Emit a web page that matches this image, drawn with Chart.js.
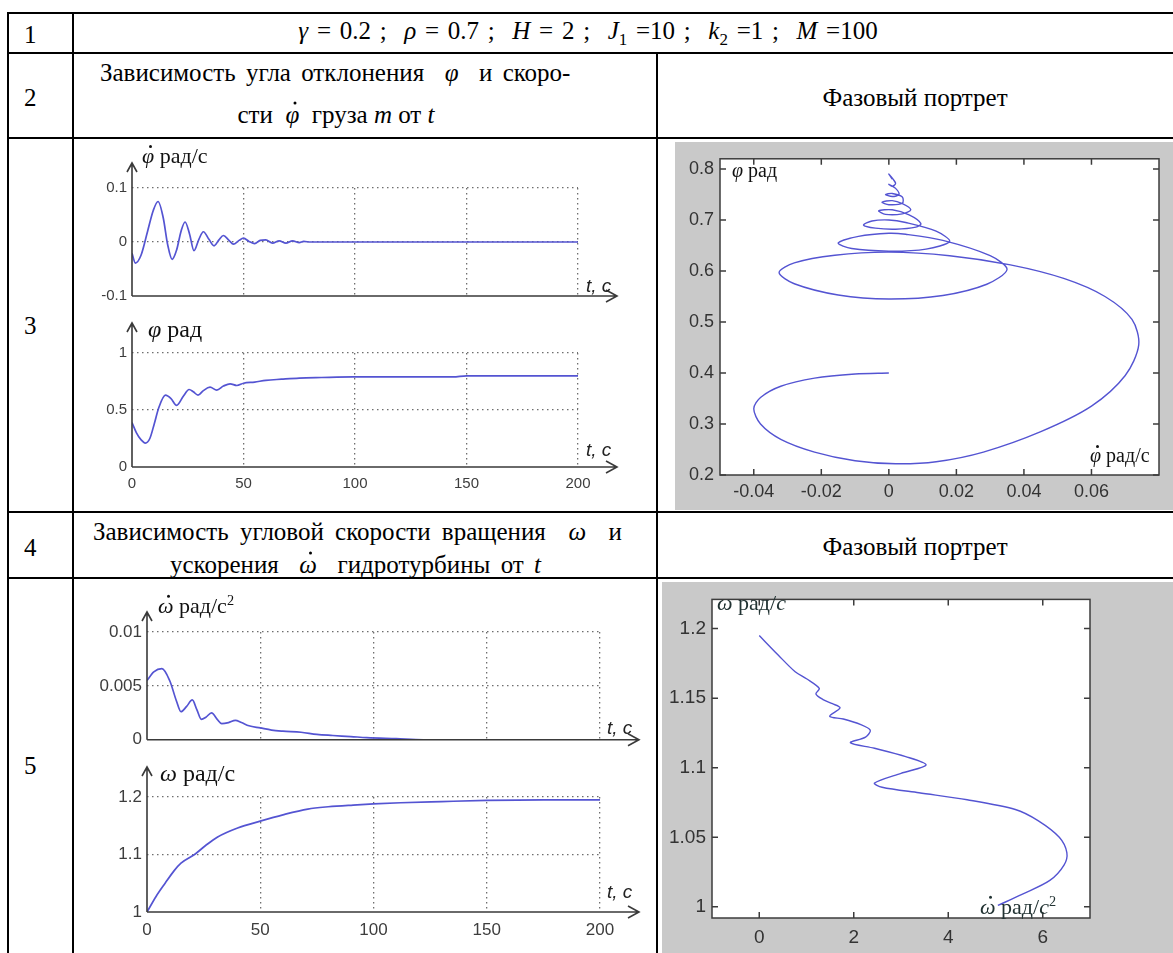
<!DOCTYPE html>
<html>
<head>
<meta charset="utf-8">
<script src="https://cdn.jsdelivr.net/npm/chart.js@4/dist/chart.umd.min.js"></script>
<style>
  body { margin: 0; width: 1173px; height: 953px; overflow: hidden; position: relative; background: #fff; color: #000;
         font-family: 'Liberation Serif', 'Times New Roman', serif; }
  .ln { position: absolute; background: #000; }
  .tx { position: absolute; white-space: nowrap; line-height: 1; font-size: 25px; transform: translateY(-50%); z-index: 3; }
  .c { transform: translate(-50%, -50%); }
  .lbl { font-size: 22px; color: #111; }
  .tc { font-family: 'Liberation Sans', Arial, sans-serif; font-style: italic; font-size: 19px; color: #222; }
  .dt { position: relative; display: inline-block; }
  .dt::after { content: ""; position: absolute; width: 3px; height: 3px; border-radius: 50%; background: currentColor;
               left: 55%; top: -0.02em; }
  sub { font-size: 0.68em; vertical-align: -0.3em; }
  canvas { position: absolute; }
  .gray { background: #c9c9c9; }
</style>
</head>
<body>

<!-- table lines -->
<div class="ln" style="left:7px;top:12px;width:1166px;height:2px"></div>
<div class="ln" style="left:7px;top:52px;width:1166px;height:2px"></div>
<div class="ln" style="left:7px;top:137px;width:1166px;height:2px"></div>
<div class="ln" style="left:7px;top:511px;width:1166px;height:2px"></div>
<div class="ln" style="left:7px;top:577px;width:1166px;height:2px"></div>
<div class="ln" style="left:7px;top:12px;width:2px;height:941px"></div>
<div class="ln" style="left:72px;top:12px;width:2px;height:941px"></div>
<div class="ln" style="left:656px;top:52px;width:2px;height:901px"></div>

<!-- table text -->
<div class="tx" style="left:24px;top:34px">1</div>
<div class="tx c" style="left:588px;top:33px;word-spacing:2.5px"><i>γ</i> = 0.2 ;&nbsp; <i>ρ</i> = 0.7 ;&nbsp; <i>H</i> = 2 ;&nbsp; <i>J</i><sub>1</sub> =10 ;&nbsp; <i>k</i><sub>2</sub> =1 ;&nbsp; <i>M</i> =100</div>
<div class="tx" style="left:24px;top:97px">2</div>
<div class="tx" style="left:100px;top:72px;word-spacing:4px">Зависимость угла отклонения&nbsp; <i>φ</i>&nbsp; и скоро-</div>
<div class="tx c" style="left:336px;top:114px">сти&nbsp; <i class="dt">φ</i>&nbsp; груза <i>m</i> от <i>t</i></div>
<div class="tx c" style="left:915px;top:97px">Фазовый портрет</div>
<div class="tx" style="left:24px;top:325px">3</div>
<div class="tx" style="left:24px;top:547px">4</div>
<div class="tx" style="left:93px;top:531px;word-spacing:5px">Зависимость угловой скорости вращения&nbsp; <i>ω</i>&nbsp; и</div>
<div class="tx" style="left:170px;top:564px;word-spacing:4px">ускорения&nbsp; <i class="dt">ω</i>&nbsp; гидротурбины от <i>t</i></div>
<div class="tx c" style="left:915px;top:546px">Фазовый портрет</div>
<div class="tx" style="left:24px;top:765px">5</div>

<!-- charts -->
<canvas id="cPhiDot" width="545" height="160" style="left:92px;top:150px"></canvas>
<canvas id="cPhi" width="545" height="185" style="left:92px;top:315px"></canvas>
<canvas id="cOmDot" width="560" height="160" style="left:92px;top:595px"></canvas>
<canvas id="cOm" width="560" height="190" style="left:92px;top:760px"></canvas>
<canvas id="pPhi" class="gray" width="498" height="368" style="left:675px;top:142px"></canvas>
<canvas id="pOm" class="gray" width="511" height="371" style="left:662px;top:582px"></canvas>

<!-- axis captions -->
<div class="tx lbl" style="left:142px;top:156px"><i class="dt">φ</i> рад/с</div>
<div class="tx tc" style="left:586px;top:285px">t, c</div>
<div class="tx lbl" style="left:148px;top:329px;font-size:24px"><i>φ</i> рад</div>
<div class="tx tc" style="left:586px;top:449px">t, c</div>
<div class="tx lbl" style="left:158px;top:605px"><i class="dt">ω</i> рад/с<sup style="font-size:0.65em">2</sup></div>
<div class="tx tc" style="left:607px;top:727px">t, c</div>
<div class="tx lbl" style="left:160px;top:773px;font-size:24px"><i>ω</i> рад/с</div>
<div class="tx tc" style="left:607px;top:891px">t, c</div>
<div class="tx lbl" style="left:732px;top:170px;font-size:20px"><i>φ</i> рад</div>
<div class="tx lbl" style="left:1090px;top:455px;font-size:20px"><i class="dt">φ</i> рад/с</div>
<div class="tx lbl" style="left:717px;top:603px;font-size:22px;color:#233"><i>ω</i> рад/<i>с</i></div>
<div class="tx lbl" style="left:980px;top:906px;font-size:22px;color:#233"><i class="dt">ω</i> рад/<i>с</i><sup style="font-size:0.65em">2</sup></div>

<script>
// phi dot (rad/s) vs t
const tPhiDot = [0, 1.5, 4, 7, 9.5, 11.7, 14, 16, 18, 20, 22, 23.8, 25.8, 27.8, 30, 32, 34.5, 36.8, 39, 41, 43.5, 45.5, 48, 50, 52.5, 55, 57.5, 60, 63, 66, 69, 72, 75, 77, 80, 100, 150, 200];
const phiDot = [-0.021, -0.039, -0.025, 0.02, 0.058, 0.075, 0.045, -0.005, -0.032, -0.015, 0.02, 0.037, 0.015, -0.016, 0.005, 0.019, 0.005, -0.007, 0.004, 0.012, 0.003, -0.004, 0.003, 0.007, 0.001, -0.003, 0.003, 0.004, -0.002, 0.002, -0.002, 0.002, -0.001, 0.001, 0, 0, 0, 0];

// phi (rad) vs t
const tPhi = [0, 2, 4, 6, 8, 10, 12, 15, 17.5, 20, 23, 25.6, 27.5, 29.6, 32, 35, 38, 41, 44, 47, 50, 55, 60, 67, 75, 85, 99, 120, 144, 150, 175, 200];
const phi = [0.39, 0.30, 0.24, 0.21, 0.25, 0.38, 0.52, 0.63, 0.60, 0.54, 0.62, 0.68, 0.66, 0.63, 0.67, 0.70, 0.675, 0.71, 0.73, 0.715, 0.735, 0.745, 0.76, 0.77, 0.78, 0.785, 0.79, 0.79, 0.79, 0.80, 0.80, 0.80];

// omega dot (rad/s^2) vs t
const tOmDot = [0, 3, 6.6, 10, 13, 15, 17.5, 20, 22, 24, 26, 28.5, 31, 33, 36, 39, 41.7, 45, 50, 55, 60, 68, 75, 82, 90, 97, 110, 122, 150, 200];
const omDot = [0.0055, 0.0063, 0.0066, 0.0055, 0.0036, 0.0026, 0.0031, 0.0037, 0.0028, 0.0019, 0.0021, 0.0025, 0.0019, 0.0015, 0.0016, 0.0018, 0.0016, 0.0013, 0.0011, 0.0009, 0.0008, 0.0007, 0.0005, 0.0004, 0.0003, 0.0002, 0.0001, 0, 0, 0];

// omega (rad/s) vs t
const tOm = [0, 4, 8, 12, 15, 21, 26, 31, 40, 50, 60, 71, 80, 91, 100, 112, 130, 150, 175, 200];
const om = [1.0, 1.027, 1.05, 1.072, 1.085, 1.10, 1.116, 1.13, 1.146, 1.158, 1.169, 1.179, 1.183, 1.186, 1.188, 1.19, 1.192, 1.194, 1.195, 1.195];

// phase portrait 1: x = phi dot, y = phi
const ppPhiDot = [0, -0.010, -0.022, -0.032, -0.038, -0.040, -0.038, -0.032, -0.022, -0.010, 0.002, 0.014, 0.028, 0.045, 0.060, 0.070, 0.074, 0.072, 0.064, 0.052, 0.036, 0.018, 0,
  -0.016, -0.028, -0.0325, -0.028, -0.015, 0, 0.016, 0.029, 0.035, 0.030, 0.016, 0.005, 0,
  -0.009, -0.015, -0.011, 0, 0.011, 0.018, 0.014, 0.005, 0,
  -0.005, -0.0075, -0.004, 0.002, 0.008, 0.0095, 0.006, 0.001,
  -0.003, -0.001, 0.004, 0.0065, 0.004, 0.001,
  -0.002, 0, 0.004, 0.004, 0.001,
  -0.001, 0.001, 0.003, 0.002, 0, 0.001, 0.002, 0, 0.001];
const ppPhi = [0.400, 0.398, 0.390, 0.374, 0.352, 0.330, 0.300, 0.270, 0.245, 0.228, 0.222, 0.226, 0.245, 0.285, 0.335, 0.395, 0.455, 0.505, 0.550, 0.585, 0.612, 0.630, 0.637,
  0.631, 0.616, 0.597, 0.575, 0.553, 0.545, 0.552, 0.574, 0.603, 0.630, 0.660, 0.672, 0.674,
  0.668, 0.655, 0.644, 0.639, 0.643, 0.658, 0.678, 0.695, 0.700,
  0.698, 0.690, 0.684, 0.682, 0.686, 0.693, 0.710, 0.720,
  0.718, 0.711, 0.712, 0.720, 0.732, 0.738,
  0.735, 0.730, 0.733, 0.745, 0.752,
  0.750, 0.746, 0.750, 0.762, 0.770, 0.766, 0.772, 0.790, 0.780];

// phase portrait 2: x = omega dot (x1e-3), y = omega
const ppOmDot = [5.05, 5.56, 6.15, 6.45, 6.51, 6.35, 5.9, 5.42, 4.4, 3.38, 2.6, 2.44, 3.0, 3.53, 3.1, 2.44, 1.93, 2.25, 2.35, 2.15, 1.78, 1.49, 1.71, 1.55, 1.35, 1.2, 1.27, 1.0, 0.76, 0.4, 0];
const ppOm = [1.001, 1.009, 1.019, 1.03, 1.039, 1.05, 1.062, 1.07, 1.077, 1.082, 1.086, 1.089, 1.096, 1.102, 1.108, 1.114, 1.118, 1.122, 1.127, 1.131, 1.135, 1.137, 1.143, 1.146, 1.149, 1.153, 1.157, 1.164, 1.169, 1.181, 1.195];

// tick labels
const tTicks = [0, 50, 100, 150, 200];
const phiDotTicks = [-0.1, 0, 0.1];
const phiTicks = [0, 0.5, 1];
const omDotTicks = [0, 0.005, 0.01];
const omTicks = [1, 1.1, 1.2];
const ppPhiDotTicks = [-0.04, -0.02, 0, 0.02, 0.04, 0.06];
const ppPhiTicks = [0.2, 0.3, 0.4, 0.5, 0.6, 0.7, 0.8];
const ppOmDotTicks = [0, 2, 4, 6];
const ppOmTicks = [1, 1.05, 1.1, 1.15, 1.2];

const LINE = '#5454d2';
const GRID = '#6e6e6e';
const SANS = "'Liberation Sans', Arial, sans-serif";

Chart.defaults.font.family = SANS;

function pts(xs, ys) {
  return xs.map((x, i) => ({ x: x, y: ys[i] }));
}

// axes with arrow heads, like the hand-drawn plots
const arrowAxes = {
  id: 'arrowAxes',
  afterDraw(chart, args, o) {
    const ctx = chart.ctx, a = chart.chartArea;
    const top = a.top - o.up, end = a.right + o.right;
    ctx.save();
    ctx.strokeStyle = '#3a3a3a';
    ctx.lineWidth = 1.6;
    ctx.beginPath();
    ctx.moveTo(a.left, a.bottom); ctx.lineTo(a.left, top);
    ctx.moveTo(a.left, a.bottom); ctx.lineTo(end, a.bottom);
    ctx.moveTo(a.left - 5, top + 9); ctx.lineTo(a.left, top); ctx.lineTo(a.left + 5, top + 9);
    ctx.moveTo(end - 11, a.bottom - 6); ctx.lineTo(end, a.bottom); ctx.lineTo(end - 11, a.bottom + 6);
    ctx.stroke();
    ctx.restore();
  }
};

// matlab style box with inward ticks on all sides
const matlabBox = {
  id: 'matlabBox',
  beforeDatasetsDraw(chart) {
    const ctx = chart.ctx, a = chart.chartArea;
    ctx.save();
    ctx.fillStyle = '#fff';
    ctx.fillRect(a.left, a.top, a.width, a.height);
    ctx.restore();
  },
  afterDraw(chart) {
    const ctx = chart.ctx, a = chart.chartArea;
    const x = chart.scales.x, y = chart.scales.y;
    ctx.save();
    ctx.strokeStyle = '#3c3c3c';
    ctx.lineWidth = 1.5;
    ctx.strokeRect(a.left, a.top, a.width, a.height);
    ctx.beginPath();
    x.ticks.forEach(t => {
      const px = x.getPixelForValue(t.value);
      ctx.moveTo(px, a.bottom); ctx.lineTo(px, a.bottom - 6);
      ctx.moveTo(px, a.top); ctx.lineTo(px, a.top + 6);
    });
    y.ticks.forEach(t => {
      const py = y.getPixelForValue(t.value);
      ctx.moveTo(a.left, py); ctx.lineTo(a.left + 6, py);
      ctx.moveTo(a.right, py); ctx.lineTo(a.right - 6, py);
    });
    ctx.stroke();
    ctx.restore();
  }
};

function timeChart(id, t, v, yTicks, o) {
  new Chart(document.getElementById(id), {
    type: 'line',
    data: { datasets: [{ data: pts(t, v), borderColor: LINE, borderWidth: 1.7, pointRadius: 0, cubicInterpolationMode: 'monotone' }] },
    options: {
      responsive: false,
      animation: false,
      layout: { padding: { top: o.padTop, right: o.padRight, left: 0, bottom: 0 } },
      plugins: { legend: { display: false }, tooltip: { enabled: false }, arrowAxes: { up: o.up, right: 39 } },
      scales: {
        x: {
          type: 'linear', min: 0, max: 200,
          afterBuildTicks: s => { s.ticks = tTicks.map(val => ({ value: val })); },
          afterFit: s => { s.height = o.xh; },
          grid: { color: c => (c.tick && c.tick.value === 0) ? 'rgba(0,0,0,0)' : GRID, drawTicks: false, lineWidth: 1.3 },
          border: { display: false, dash: [1.5, 3.5] },
          ticks: { display: o.xLabels, padding: 8, color: '#3d3d3d', font: { size: o.fs }, maxRotation: 0, autoSkip: false }
        },
        y: {
          type: 'linear', min: yTicks[0], max: yTicks[yTicks.length - 1],
          afterBuildTicks: s => { s.ticks = yTicks.map(val => ({ value: val })); },
          afterFit: s => { s.width = o.yw; },
          grid: { color: c => (c.tick && c.tick.value === yTicks[0]) ? 'rgba(0,0,0,0)' : GRID, drawTicks: false, lineWidth: 1.3 },
          border: { display: false, dash: [1.5, 3.5] },
          ticks: { padding: 5, color: '#3d3d3d', font: { size: o.fs }, callback: val => String(val) }
        }
      }
    },
    plugins: [arrowAxes]
  });
}

function phaseChart(id, xs, ys, xTicks, yTicks, o) {
  new Chart(document.getElementById(id), {
    type: 'scatter',
    data: { datasets: [{ data: pts(xs, ys), showLine: true, borderColor: LINE, borderWidth: 1.4, pointRadius: 0, tension: 0.3 }] },
    options: {
      responsive: false,
      animation: false,
      layout: { padding: { top: o.padTop, right: o.padRight, left: 0, bottom: 0 } },
      plugins: { legend: { display: false }, tooltip: { enabled: false } },
      scales: {
        x: {
          type: 'linear', min: o.xMin, max: o.xMax,
          afterBuildTicks: s => { s.ticks = xTicks.map(val => ({ value: val })); },
          afterFit: s => { s.height = o.xh; },
          grid: { display: false, drawTicks: false },
          border: { display: false },
          ticks: { padding: o.xPad, color: '#333', font: { size: o.fs }, maxRotation: 0, autoSkip: false, callback: val => String(val) }
        },
        y: {
          type: 'linear', min: o.yMin, max: o.yMax,
          afterBuildTicks: s => { s.ticks = yTicks.map(val => ({ value: val })); },
          afterFit: s => { s.width = o.yw; },
          grid: { display: false, drawTicks: false },
          border: { display: false },
          ticks: { padding: 6, color: '#333', font: { size: o.fs }, callback: val => String(val) }
        }
      }
    },
    plugins: [matlabBox]
  });
}

timeChart('cPhiDot', tPhiDot, phiDot, phiDotTicks, { padTop: 38, padRight: 59, xh: 8, yw: 40, up: 25, xLabels: false, fs: 15 });
timeChart('cPhi', tPhi, phi, phiTicks, { padTop: 38, padRight: 59, xh: 33, yw: 40, up: 30, xLabels: true, fs: 15 });
timeChart('cOmDot', tOmDot, omDot, omDotTicks, { padTop: 37, padRight: 52, xh: 10, yw: 55, up: 20, xLabels: false, fs: 17 });
timeChart('cOm', tOm, om, omTicks, { padTop: 37, padRight: 52, xh: 38, yw: 55, up: 30, xLabels: true, fs: 17 });

phaseChart('pPhi', ppPhiDot, ppPhi, ppPhiDotTicks, ppPhiTicks,
  { xMin: -0.05, xMax: 0.08, yMin: 0.2, yMax: 0.82, padTop: 13, padRight: 14, xh: 35, yw: 45, xPad: 6, fs: 18 });
phaseChart('pOm', ppOmDot, ppOm, ppOmDotTicks, ppOmTicks,
  { xMin: -1, xMax: 7, yMin: 0.992, yMax: 1.221, padTop: 7, padRight: 83, xh: 35, yw: 50, xPad: 8, fs: 19 });
</script>
</body>
</html>
